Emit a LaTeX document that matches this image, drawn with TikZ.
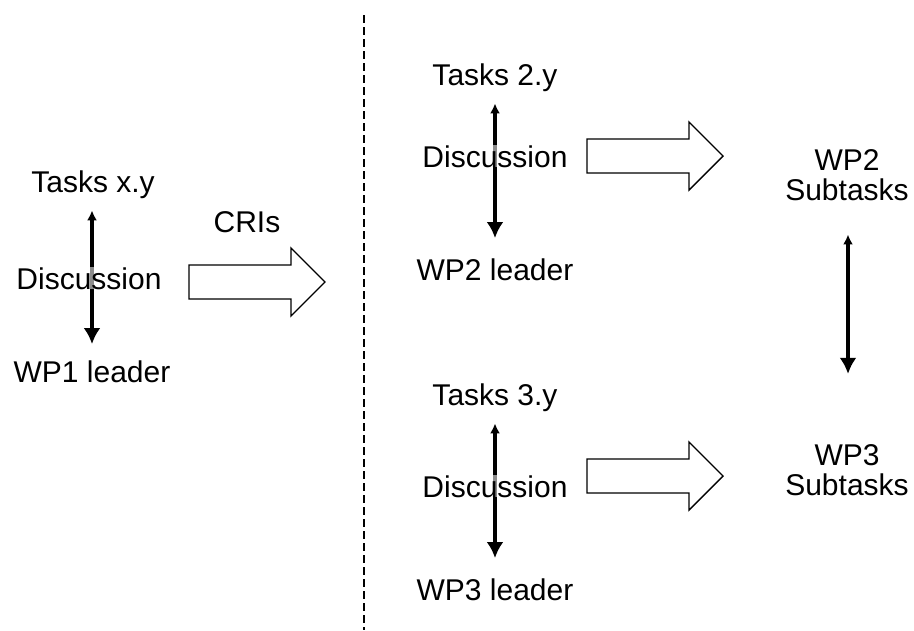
\documentclass[tikz,border=0pt]{standalone}
\usepackage{fontspec}
\setmainfont{Liberation Sans}
\usetikzlibrary{
	arrows.meta,
	positioning
}
\tikzset{
	label/.style={font=\fontsize{30}{30}\selectfont, inner sep=0pt, anchor=base, align=center},
	discnode/.style={label, fill=white, fill opacity=0.55, text opacity=1, text height=22pt, text depth=0pt},
	talk/.style={line width=3.2pt, {Latex[length=10pt, width=10pt]}-{Latex[length=16pt, width=17pt]}},
	divider/.style={line width=1.5pt, dash pattern=on 8pt off 4pt},
	fatarrow/.pic={
		\draw[line width=1.4pt, fill=white]
			(0,-17) -- (102,-17) -- (102,-34) -- (136,0)
			-- (102,34) -- (102,17) -- (0,17) -- cycle;
	}
}

\begin{document}
\begin{tikzpicture}[x=1pt, y=-1pt]
	\useasboundingbox (0,0) rectangle (914,630);

	% WP1 side
	\node[label] (tasks1) at (93,192) {Tasks x.y};
	\node[label] (lead1) at (92,382) {WP1 leader};
	\node[label] (cri) at (247,232) {CRIs};
	\draw[talk, shorten <=12pt, shorten >=16pt] (tasks1.south -| 92,0) -- (lead1.north -| 92,0);
	\node[discnode] (disc1) at (89,289) {Discussion};
	\pic at (189,282) {fatarrow};

	\draw[divider] (364,15) -- (364,630);

	% WP2
	\node[label] (tasks2) at (495,85) {Tasks 2.y};
	\node[label] (lead2) at (495,280) {WP2 leader};
	\draw[talk, shorten <=12pt, shorten >=20pt] (tasks2.south) -- (lead2.north);
	\node[discnode] (disc2) at (495,167) {Discussion};
	\pic at (587,156) {fatarrow};
	\node[label] (sub2) at (847,200) {WP2\\Subtasks};

	% WP3
	\node[label] (tasks3) at (495,405) {Tasks 3.y};
	\node[label] (lead3) at (495,600) {WP3 leader};
	\draw[talk, shorten <=12pt, shorten >=20pt] (tasks3.south) -- (lead3.north);
	\node[discnode] (disc3) at (495,497) {Discussion};
	\pic at (587,476) {fatarrow};
	\node[label] (sub3) at (847,495) {WP3\\Subtasks};

	\draw[talk, shorten <=34pt, shorten >=70pt] (sub2.south -| 848,0) -- (sub3.north -| 848,0);
\end{tikzpicture}
\end{document}
